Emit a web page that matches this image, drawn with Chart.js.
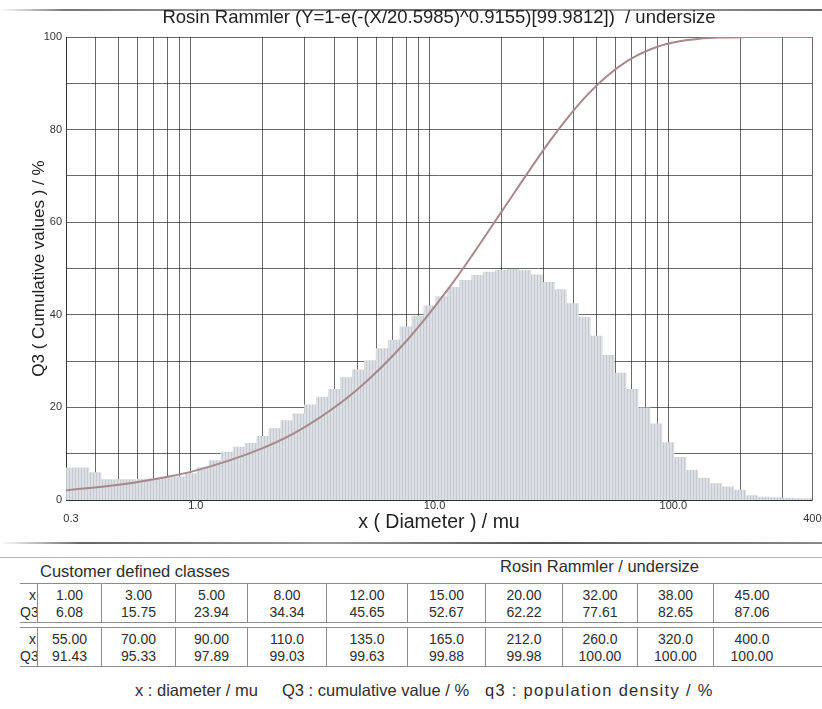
<!DOCTYPE html>
<html>
<head>
<meta charset="utf-8">
<script src="https://cdn.jsdelivr.net/npm/chart.js@4.4.1/dist/chart.umd.min.js"></script>
<style>
  html, body { margin: 0; padding: 0; background: #fff; }
  body { width: 822px; height: 709px; overflow: hidden; position: relative;
         font-family: "Liberation Sans", Arial, sans-serif; color: #2e2e2e; }
  #plot { position: absolute; left: 0; top: 0; width: 822px; height: 545px; }
  .rule { position: absolute; left: 0; width: 822px; }
  .txt { position: absolute; white-space: nowrap; font-size: 16.5px; line-height: 18px; }
  .row { position: absolute; left: 20px; width: 820px; height: 40px; box-sizing: border-box;
         border-top: 1px solid #8c8c8c; border-bottom: 1px solid #8c8c8c; }
  .cell { position: absolute; top: 0; height: 100%; box-sizing: border-box;
          border-left: 1px solid #8c8c8c; text-align: center; font-size: 14px;
          line-height: 17px; padding-top: 3px; white-space: pre; overflow: hidden; }
  .lab { border-left: none; text-align: right; padding-right: 1px; }
</style>
</head>
<body>
<div class="rule" style="top:9px;height:2px;background:linear-gradient(90deg,#fff 0%,#777 8%,#999 30%,#666 55%,#aaa 75%,#666 100%);"></div>
<div id="plot"><canvas id="chart" width="822" height="545"></canvas></div>
<div class="rule" style="top:542px;height:2px;background:linear-gradient(90deg,#fff 0%,#666 10%,#999 40%,#555 65%,#888 100%);"></div>
<div class="rule" style="top:557px;height:1px;background:#b5b5b5;"></div>

<div class="txt" style="left:40px;top:562px;">Customer defined classes</div>
<div class="txt" style="left:500px;top:557px;">Rosin Rammler / undersize</div>
<div class="row" id="row1" style="top:583px;"></div>
<div class="row" id="row2" style="top:627px;"></div>
<div class="txt" style="left:135px;top:681px;">x : diameter / mu</div>
<div class="txt" style="left:282px;top:681px;">Q3 : cumulative value / %</div>
<div class="txt" style="left:485px;top:681px;letter-spacing:1.3px;">q3 : population density / %</div>

<script>
// Rosin Rammler undersize table (x in mu, Q3 in %)
const tableSizes = [1, 3, 5, 8, 12, 15, 20, 32, 38, 45,
                    55, 70, 90, 110, 135, 165, 212, 260, 320, 400];
const tableQ3 = [6.08, 15.75, 23.94, 34.34, 45.65, 52.67, 62.22, 77.61, 82.65, 87.06,
                 91.43, 95.33, 97.89, 99.03, 99.63, 99.88, 99.98, 100.00, 100.00, 100.00];

// extra points of the cumulative curve below and between the table classes
const extraSizes = [0.3, 0.5, 0.7, 2];
const extraQ3 = [2.1, 3.3, 4.5, 11.2];

// population density q3 per class (class centres, mu)
const classSizes = [0.3, 0.3162, 0.3548, 0.3981, 0.4467, 0.5012, 0.5623, 0.6310, 0.7079, 0.7943, 0.8913,
  1.000, 1.122, 1.259, 1.413, 1.585, 1.778, 1.995, 2.239, 2.512, 2.818,
  3.162, 3.548, 3.981, 4.467, 5.012, 5.623, 6.310, 7.079, 7.943, 8.913,
  10.00, 11.22, 12.59, 14.13, 15.85, 17.78, 19.95, 22.39, 25.12, 28.18,
  31.62, 35.48, 39.81, 44.67, 50.12, 56.23, 63.10, 70.79, 79.43, 89.13,
  100.0, 112.2, 125.9, 141.3, 158.5, 177.8, 199.5, 223.9, 251.2, 281.8,
  316.2, 354.8, 398.1, 400];
const densityQ3 = [7.0, 7.0, 7.0, 6.0, 4.5, 4.5, 4.5, 4.6, 4.7, 4.9, 5.1,
  5.8, 7.0, 8.6, 10.4, 11.5, 12.3, 13.8, 15.5, 17.2, 18.7,
  20.6, 22.3, 24.0, 26.5, 28.2, 30.2, 32.8, 34.6, 37.5, 39.8,
  42.0, 44.0, 46.0, 47.5, 48.6, 49.3, 49.7, 49.9, 49.7, 48.7,
  47.1, 45.5, 42.5, 39.5, 35.5, 31.3, 27.5, 24.0, 20.0, 16.5,
  12.5, 9.3, 6.5, 4.8, 3.6, 2.9, 2.2, 1.0, 0.7, 0.6,
  0.5, 0.4, 0.4, 0.4];

// grid positions of the log axis and the labelled ones
const gridSizes = [0.3, 0.4, 0.5, 0.6, 0.7, 0.8, 0.9,
  1, 2, 3, 4, 5, 6, 7, 8, 9,
  10, 20, 30, 40, 50, 60, 70, 80, 90,
  100, 200, 300, 400];
const xTickValues = [0.3, 1, 10, 100, 400];
const xTickText = ['0.3', '1.0', '10.0', '100.0', '400.0'];
const yTickValues = [0, 20, 40, 60, 80, 100];

// table markup (column edges relative to the row box)
function fmtSize(v) { return v < 100 ? v.toFixed(2) : v.toFixed(1); }
const colEdges = [17, 81, 155, 227, 306, 387, 465, 542, 617, 693, 770];
function buildRow(id, from) {
  const row = document.getElementById(id);
  let html = '<div class="cell lab" style="left:0;width:17px;">x\nQ3</div>';
  for (let i = 0; i < 10; i++) {
    const k = from + i;
    html += '<div class="cell" style="left:' + colEdges[i] + 'px;width:' + (colEdges[i + 1] - colEdges[i]) + 'px;">' +
      fmtSize(tableSizes[k]) + '\n' + tableQ3[k].toFixed(2) + '</div>';
  }
  row.innerHTML = html;
}
buildRow('row1', 0);
buildRow('row2', 10);

// cumulative curve points: extra readings merged with table classes
const curvePts = extraSizes.map((x, i) => ({x, y: extraQ3[i]}))
  .concat(tableSizes.map((x, i) => ({x, y: tableQ3[i]})))
  .sort((a, b) => a.x - b.x);

// hatched grey fill for the density bars
function hatch() {
  const c = document.createElement('canvas');
  c.width = 3; c.height = 4;
  const g = c.getContext('2d');
  g.fillStyle = '#dcdfe4'; g.fillRect(0, 0, 3, 4);
  g.fillStyle = '#c6cad0'; g.fillRect(0, 0, 1, 4);
  return g.createPattern(c, 'repeat');
}

const gridColor = 'rgba(15,15,15,0.62)';
const font = '"Liberation Sans", Arial, sans-serif';

new Chart(document.getElementById('chart'), {
  type: 'line',
  data: {
    datasets: [
      {
        label: 'Q3',
        data: curvePts,
        borderColor: '#a7898d',
        borderWidth: 2,
        pointRadius: 0,
        cubicInterpolationMode: 'monotone',
        fill: false,
        order: 1
      },
      {
        label: 'q3',
        data: classSizes.map((x, i) => ({x, y: densityQ3[i]})),
        stepped: 'middle',
        fill: 'origin',
        backgroundColor: hatch(),
        borderColor: 'rgba(0,0,0,0)',
        borderWidth: 0,
        pointRadius: 0,
        order: 2
      }
    ]
  },
  options: {
    responsive: false,
    animation: false,
    events: [],
    layout: { padding: { left: 0, right: 10, top: 0, bottom: 0 } },
    plugins: {
      legend: { display: false },
      tooltip: { enabled: false },
      title: {
        display: true,
        fullSize: false,
        text: 'Rosin Rammler (Y=1-e(-(X/20.5985)^0.9155)[99.9812])  / undersize',
        color: '#222',
        font: { family: font, size: 18.5, weight: 'normal', lineHeight: 1.2 },
        padding: { top: 7, bottom: 7.8 }
      }
    },
    scales: {
      x: {
        type: 'logarithmic',
        min: 0.3,
        max: 400,
        z: 1,
        afterBuildTicks: s => { s.ticks = gridSizes.map(v => ({value: v})); },
        afterFit: s => { s.height = 45; s.paddingLeft = 0; s.paddingRight = 0; },
        grid: { color: gridColor, lineWidth: 1, drawTicks: false },
        border: { display: true, color: gridColor },
        ticks: {
          autoSkip: false, maxRotation: 0, minRotation: 0, padding: 0, labelOffset: 5,
          color: '#333', font: { family: font, size: 11, lineHeight: 1.15 },
          callback: v => {
            const i = xTickValues.indexOf(v);
            if (i < 0) return '';
            return (i === 0 || i === xTickValues.length - 1) ? ['', xTickText[i]] : xTickText[i];
          }
        },
        title: {
          display: true, text: 'x ( Diameter ) / mu', color: '#222',
          font: { family: font, size: 19.5, lineHeight: 1.2 }, padding: { top: 0, bottom: 11 }
        }
      },
      y: {
        min: 0,
        max: 100,
        z: 1,
        afterFit: s => { s.width = 66; },
        grid: { color: gridColor, lineWidth: 1, drawTicks: false },
        border: { display: true, color: gridColor },
        ticks: {
          stepSize: 10, padding: 4, color: '#333', font: { family: font, size: 11 },
          callback: v => yTickValues.includes(v) ? String(v) : ''
        },
        title: {
          display: true, text: 'Q3 ( Cumulative values ) / %', color: '#222',
          font: { family: font, size: 17, lineHeight: 1.2 }, padding: { top: 29, bottom: 0 }
        }
      }
    }
  }
});
</script>
</body>
</html>
